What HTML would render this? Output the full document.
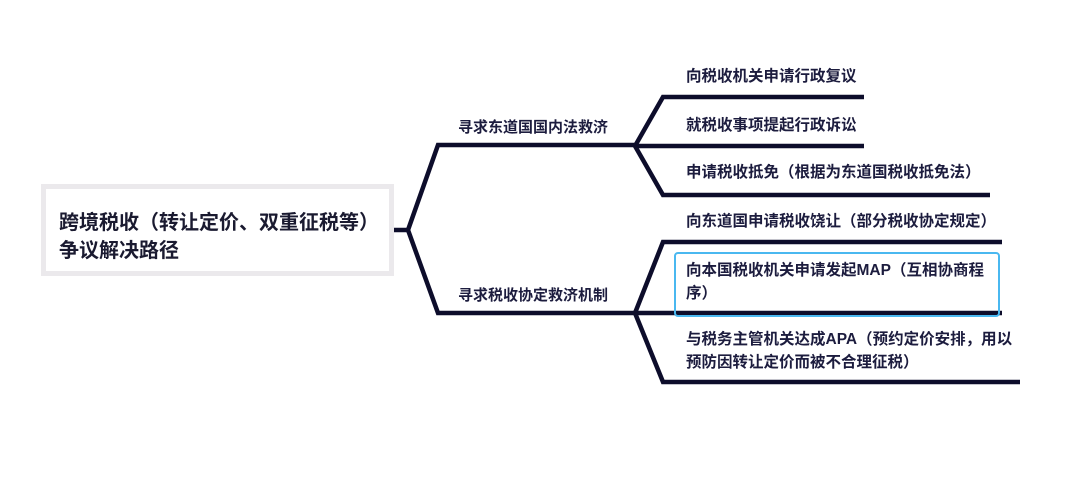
<!DOCTYPE html>
<html><head><meta charset="utf-8"><style>
body{margin:0;width:1080px;height:492px;background:#fff;overflow:hidden;position:relative;font-family:"Liberation Sans","Noto Sans CJK SC",sans-serif;}
.t{position:absolute;font-weight:bold;color:#1c1c3e;font-size:15.5px;line-height:23px;white-space:nowrap;}
.l1{font-size:15px;}
.root{position:absolute;left:41px;top:184px;width:343px;height:82px;border:5px solid #ebe9ec;background:#fff;}
.root div{position:absolute;left:13px;top:20px;font-size:20px;line-height:28px;font-weight:bold;color:#1a1a30;white-space:nowrap;}
.map{position:absolute;left:674px;top:252px;width:322px;height:61px;border:2px solid #4ab8f0;border-radius:4px;}
</style></head><body>
<svg width="1080" height="492" style="position:absolute;left:0;top:0">
<g fill="none" stroke="#0d0d2b" stroke-width="4.5" stroke-linejoin="miter">
<path d="M393 230 H408 L438 145 H635"/>
<path d="M408 230 L438 313 H635"/>
<path d="M635 146 L663 97 H864"/>
<path d="M635 146 H864"/>
<path d="M635 146 L663 195 H990"/>
<path d="M635 313 L663 242 H1002"/>
<path d="M635 313 H1002"/>
<path d="M635 313 L663 382 H1020"/>
</g>
</svg>
<div class="root"><div>跨境税收（转让定价、双重征税等）<br>争议解决路径</div></div>
<div class="t l1" style="left:458px;top:116px">寻求东道国国内法救济</div>
<div class="t l1" style="left:458px;top:284px">寻求税收协定救济机制</div>
<div class="t" style="left:686px;top:65px">向税收机关申请行政复议</div>
<div class="t" style="left:686px;top:114px">就税收事项提起行政诉讼</div>
<div class="t" style="left:686px;top:161px">申请税收抵免（根据为东道国税收抵免法）</div>
<div class="t" style="left:686px;top:210px">向东道国申请税收饶让（部分税收协定规定）</div>
<div class="map"></div>
<div class="t" style="left:686px;top:259px">向本国税收机关申请发起MAP（互相协商程<br>序）</div>
<div class="t" style="left:686px;top:328px">与税务主管机关达成APA（预约定价安排，用以<br>预防因转让定价而被不合理征税）</div>
</body></html>
